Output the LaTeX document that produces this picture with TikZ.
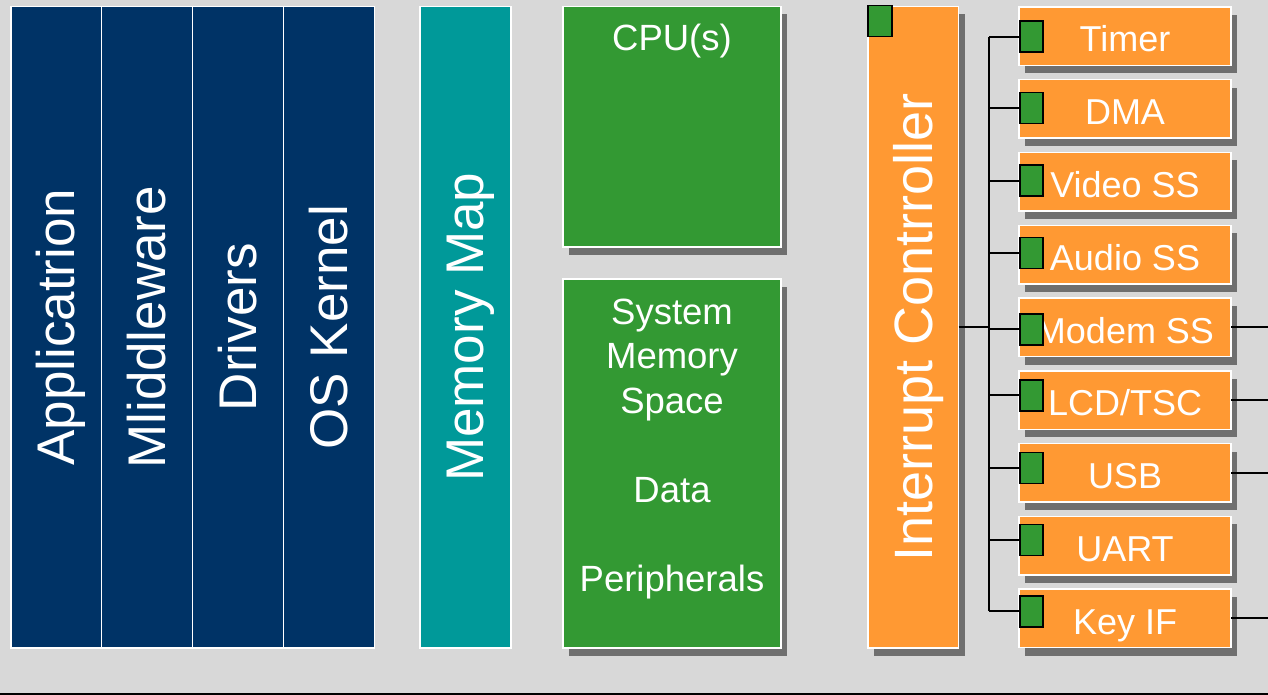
\documentclass[tikz,border=0pt]{standalone}
\usepackage{fontspec}
\setmainfont{Liberation Sans}
\usetikzlibrary{shadows}

\definecolor{navy}{HTML}{003366}
\definecolor{tealc}{HTML}{009999}
\definecolor{grn}{HTML}{339933}
\definecolor{org}{HTML}{FF9933}
\definecolor{bgc}{HTML}{D8D8D8}
\definecolor{shd}{HTML}{6F6F6F}

\tikzset{
  box/.style={rectangle, anchor=north west, inner sep=0pt, outer sep=0pt,
              draw=white, line width=1.5pt},
  navybox/.style={box, fill=navy},
  tealbox/.style={box, fill=tealc},
  shadowed/.style={drop shadow={shadow xshift=6pt, shadow yshift=-8pt,
                   fill=shd, opacity=1}},
  greenbox/.style={box, fill=grn, shadowed},
  orangebox/.style={box, fill=org, shadowed},
  irqbox/.style={orangebox, minimum width=212pt, minimum height=58.5pt},
  tag/.style={rectangle, anchor=north west, inner sep=0pt, fill=grn,
              draw=black, line width=1.5pt, minimum width=23pt, minimum height=31pt},
  vtext/.style={rotate=90, anchor=base, text=white, inner sep=0pt,
                font=\fontsize{53}{60}\selectfont},
  gtext/.style={anchor=base, text=white, inner sep=0pt,
                font=\fontsize{36.5}{44}\selectfont},
  otext/.style={anchor=base, text=white, inner sep=0pt,
                font=\fontsize{36}{43}\selectfont},
  wire/.style={draw=black, line width=2pt},
}

\begin{document}
\begin{tikzpicture}[x=1pt, y=-1pt]
\useasboundingbox (0,0) rectangle (1268,695);
\fill[bgc] (0,0) rectangle (1268,695);

% software stack
\node[navybox, minimum width=90.5pt, minimum height=641.5pt] (app) at (11,6.5) {};
\node[navybox, minimum width=91pt, minimum height=641.5pt] (mid) at (101.5,6.5) {};
\node[navybox, minimum width=91pt, minimum height=641.5pt] (drv) at (192.5,6.5) {};
\node[navybox, minimum width=91pt, minimum height=641.5pt] (ker) at (283.5,6.5) {};
\node[vtext] (appt) at ([xshift=18.4pt]app.center) {Applicatrion};
\node[vtext] (midt) at ([xshift=18.4pt]mid.center) {Mliddleware};
\node[vtext] (drvt) at ([xshift=18.4pt]drv.center) {Drivers};
\node[vtext] (kert) at ([xshift=18.4pt]ker.center) {OS Kernel};

% memory map
\node[tealbox, minimum width=91pt, minimum height=641.5pt] (mmap) at (420,6.5) {};
\node[vtext] (mmapt) at ([xshift=18.4pt]mmap.center) {Memory Map};

% CPU and memory space
\node[greenbox, minimum width=218pt, minimum height=240.5pt] (cpu) at (563,6.5) {};
\node[greenbox, minimum width=218pt, minimum height=369pt] (sms) at (563,279) {};
\node[gtext] (cput) at (672,51) {CPU(s)};
\node[gtext] (sms1) at (672,324) {System};
\node[gtext] (sms2) at (672,368.5) {Memory};
\node[gtext] (sms3) at (672,413) {Space};
\node[gtext] (sms4) at (672,502) {Data};
\node[gtext] (sms5) at (672,591) {Peripherals};

% interrupt controller
\node[orangebox, minimum width=90.5pt, minimum height=641.5pt] (ic) at (868,6.5) {};
\node[vtext, font=\fontsize{54}{60}\selectfont] (ict) at ([xshift=18.8pt]ic.center) {Interrupt Contrroller};
\node[tag, minimum width=24pt] (icq) at (867,5) {};

% interrupt sources
\node[irqbox] (tmr) at (1019,7) {};
\node[irqbox] (dma) at (1019,79.75) {};
\node[irqbox] (vid) at (1019,152.5) {};
\node[irqbox] (aud) at (1019,225.25) {};
\node[irqbox] (mdm) at (1019,298) {};
\node[irqbox] (lcd) at (1019,370.75) {};
\node[irqbox] (usb) at (1019,443.5) {};
\node[irqbox] (urt) at (1019,516.25) {};
\node[irqbox] (key) at (1019,589) {};

\node[otext] (tmrt) at (1125,52) {Timer};
\node[otext] (dmat) at (1125,124.75) {DMA};
\node[otext] (vidt) at (1125,197.5) {Video SS};
\node[otext] (audt) at (1125,270.25) {Audio SS};
\node[otext] (mdmt) at (1125,343) {Modem SS};
\node[otext] (lcdt) at (1125,415.75) {LCD/TSC};
\node[otext] (usbt) at (1125,488.5) {USB};
\node[otext] (urtt) at (1125,561.25) {UART};
\node[otext] (keyt) at (1125,634) {Key IF};

\node[tag] (tmrq) at (1019,20.5) {};
\node[tag] (dmaq) at (1019,92) {};
\node[tag] (vidq) at (1019,164.5) {};
\node[tag] (audq) at (1019,236.5) {};
\node[tag] (mdmq) at (1019,313) {};
\node[tag] (lcdq) at (1019,379) {};
\node[tag] (usbq) at (1019,451.5) {};
\node[tag] (urtq) at (1019,523.5) {};
\node[tag] (keyq) at (1019,595) {};

% interrupt lines
\coordinate (bus) at (989,0);
\coordinate (edge) at (1268,0);
\draw[wire] (tmrq.west -| bus) -- (keyq.west -| bus);
\foreach \q in {tmrq,dmaq,vidq,audq,mdmq,lcdq,usbq,urtq,keyq}
  \draw[wire] (\q.west) -- (\q.west -| bus);
\draw[wire] (ic.east) -- (ic.east -| bus);
\foreach \b in {mdm,lcd,usb,key}
  \draw[wire] (\b.east) -- (\b.east -| edge);

% bottom rule
\coordinate (bl) at (0,693.5);
\coordinate (br) at (1268,693.5);
\draw[line width=2pt] (bl) -- (br);
\end{tikzpicture}
\end{document}
